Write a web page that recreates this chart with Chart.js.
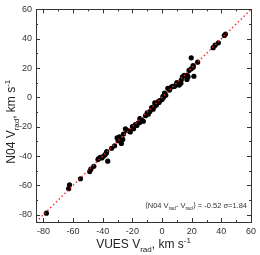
<!DOCTYPE html>
<html>
<head>
<meta charset="utf-8">
<script src="https://cdn.jsdelivr.net/npm/chart.js@4"></script>
<style>
  html, body { margin: 0; padding: 0; background: #fff; }
  #wrap { width: 260px; height: 255px; }
</style>
</head>
<body>
<div id="wrap"><canvas id="c" width="260" height="255"></canvas></div>
<script>
// VUES radial velocities (x) vs N04 radial velocities (y), km/s
const vuesV = [-78, -63, -62.4, -55, -48.8, -48, -46, -43.2, -42.8, -41.7, -40.6, -39.5, -38.4, -36.6, -37.3, -37.5, -34,
  -32, -30.3, -29.6, -27.4, -26.5, -28.7, -26, -24.7, -23.7, -22, -21.4, -20, -19.2, -18, -17, -16, -15, -14.8, -13.8, -12.6,
  -11.1, -10, -9.3, -8.2, -7, -6, -5, -4.9, -3.8, -2.7, -2, -1.6, 0, 0.6, 1, 1.7, 2.5, 3.9, 5, 6.1, 7, 8.3, 9.4, 10, 11.6,
  12.7, 13, 13.8, 14.9, 16.8, 17.1, 17.6, 21.5, 18.2, 19.7, 21, 21, 19.7, 24, 34.5, 35.8, 38, 42, 42.8];
const n04V = [-79, -62.3, -59.6, -55.5, -50.6, -49, -47, -42.4, -41.7, -40.9, -41.3, -40.2, -39.1, -43.5, -36.9, -38, -34.7,
  -33, -27.6, -29.6, -31.4, -28.7, -26.9, -25, -21.4, -22.5, -23, -23.6, -20, -21.4, -18.5, -19.2, -17.5, -14.5, -17, -15.4, -16.3,
  -12.5, -10.5, -11.5, -9.7, -7, -8.1, -6, -3.7, -5.2, -3, -3.5, -2.2, -1.5, 0.7, 0, 2.9, 1.5, 6.2, 5, 6.9, 7.5, 7.4, 8.4, 10, 8.4,
  9.6, 12, 14, 15.1, 12.2, 15.1, 14, 14.4, 18.4, 19.5, 20.6, 21.7, 27, 24, 33.9, 35.6, 37.2, 42.2, 43.2];
const axisMin = -85;
const axisMax = 60;
const tickValues = [-80, -60, -40, -20, 0, 20, 40, 60];
const minorValues = [-70, -50, -30, -10, 10, 30, 50];
const meanDiff = '-0.52';
const sigma = '1.84';

const FONT = '"Liberation Sans", Arial, sans-serif';

function drawRich(ctx, parts, x, y, size, align) {
  // parts: [text, mode] mode: n | sub | sup
  const small = Math.round(size * 0.68);
  let total = 0;
  parts.forEach(p => {
    ctx.font = (p[1] === 'n' ? size : small) + 'px ' + FONT;
    total += ctx.measureText(p[0]).width;
  });
  let cx = align === 'right' ? x - total : x - total / 2;
  ctx.textAlign = 'left';
  ctx.textBaseline = 'alphabetic';
  parts.forEach(p => {
    ctx.font = (p[1] === 'n' ? size : small) + 'px ' + FONT;
    let dy = 0;
    if (p[1] === 'sub') dy = size * 0.3;
    if (p[1] === 'sup') dy = -size * 0.45;
    ctx.fillText(p[0], cx, y + dy);
    cx += ctx.measureText(p[0]).width;
  });
}

const framePlugin = {
  id: 'frame',
  afterDraw(chart) {
    const ctx = chart.ctx;
    const a = chart.chartArea;
    const xs = chart.scales.x, ys = chart.scales.y;
    ctx.save();
    ctx.strokeStyle = '#333';
    ctx.lineWidth = 1;
    ctx.strokeRect(Math.round(a.left) + 0.5, Math.round(a.top) + 0.5, Math.round(a.right - a.left), Math.round(a.bottom - a.top));
    ctx.beginPath();
    const tick = (v, len) => {
      const px = Math.round(xs.getPixelForValue(v)) + 0.5;
      ctx.moveTo(px, a.bottom); ctx.lineTo(px, a.bottom - len);
      ctx.moveTo(px, a.top); ctx.lineTo(px, a.top + len);
      const py = Math.round(ys.getPixelForValue(v)) + 0.5;
      ctx.moveTo(a.left, py); ctx.lineTo(a.left + len, py);
      ctx.moveTo(a.right, py); ctx.lineTo(a.right - len, py);
    };
    tickValues.forEach(v => tick(v, 4));
    minorValues.forEach(v => tick(v, 2));
    ctx.stroke();

    ctx.fillStyle = '#222';
    // x title
    drawRich(ctx, [['VUES V', 'n'], ['rad', 'sub'], [', km s', 'n'], ['-1', 'sup']], (a.left + a.right) / 2, 248, 12, 'center');
    // y title
    ctx.save();
    ctx.translate(15, (a.top + a.bottom) / 2 + 6);
    ctx.rotate(-Math.PI / 2);
    drawRich(ctx, [['N04 V', 'n'], ['rad', 'sub'], [', km s', 'n'], ['-1', 'sup']], 0, 0, 12, 'center');
    ctx.restore();
    // annotation
    ctx.fillStyle = '#333';
    drawRich(ctx, [['\u27E8N04 V', 'n'], ['rad', 'sub'], ['- V', 'n'], ['rad', 'sub'], ['\u27E9 = ' + meanDiff + ' \u03C3=' + sigma, 'n']],
      a.right - 4, 208, 7.5, 'right');
    ctx.restore();
  }
};

const points = vuesV.map((v, i) => ({ x: v, y: n04V[i] }));

new Chart(document.getElementById('c'), {
  type: 'scatter',
  data: {
    datasets: [
      {
        type: 'line',
        data: [{ x: axisMin, y: axisMin }, { x: axisMax, y: axisMax }],
        borderColor: '#ff1a1a',
        borderWidth: 1.3,
        borderDash: [1.5, 2.5],
        pointRadius: 0,
        order: 0
      },
      {
        data: points,
        backgroundColor: '#000',
        borderColor: '#000',
        pointRadius: 2.6,
        borderWidth: 0,
        order: 1
      }
    ]
  },
  options: {
    responsive: false,
    animation: false,
    layout: { padding: { top: 4, right: 4, left: 0, bottom: 0 } },
    plugins: { legend: { display: false }, tooltip: { enabled: false } },
    scales: {
      x: {
        type: 'linear', min: axisMin, max: axisMax,
        grid: { display: false, drawTicks: false },
        border: { display: false },
        afterBuildTicks: s => { s.ticks = tickValues.map(v => ({ value: v })); },
        afterFit: s => { s.height = 33; },
        ticks: { font: { size: 9, family: FONT }, color: '#333', padding: 4, maxRotation: 0 }
      },
      y: {
        type: 'linear', min: axisMin, max: axisMax,
        grid: { display: false, drawTicks: false },
        border: { display: false },
        afterBuildTicks: s => { s.ticks = tickValues.map(v => ({ value: v })); },
        afterFit: s => { s.width = 36; },
        ticks: { font: { size: 9, family: FONT }, color: '#333', padding: 4 }
      }
    }
  },
  plugins: [framePlugin]
});
</script>
</body>
</html>
